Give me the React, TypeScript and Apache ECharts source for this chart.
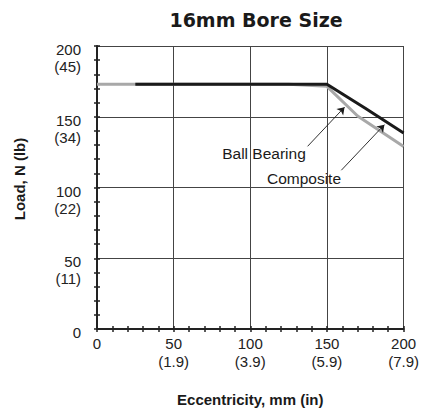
import React, { useEffect, useRef } from "react";
import * as echarts from "echarts";

const xTicks = [0, 50, 100, 150, 200];
const xInches = ["", "(1.9)", "(3.9)", "(5.9)", "(7.9)"];
const yTicks = [0, 50, 100, 150, 200];
const yPounds = ["", "(11)", "(22)", "(34)", "(45)"];

const ballX = [25, 150, 175, 200];
const ballY = [173, 173, 156, 138.5];
const compX = [0, 125, 150, 170, 200];
const compY = [173, 173, 171.5, 150.5, 129];

const ballArrow = [[137.4, 129.1], [161.5, 156.8]];
const compArrow = [[159.4, 112.2], [187.5, 144.4]];

const FONT = "'Liberation Sans', Arial, sans-serif";

export default function App() {
  const ref = useRef<HTMLDivElement>(null);
  useEffect(() => {
    document.body.style.margin = "0";
    const chart = echarts.init(ref.current!, null, { renderer: "svg" });
    const xLabel = (v: number) => {
      const i = xTicks.indexOf(v);
      return i > 0 ? `${v}\n${xInches[i]}` : `${v}`;
    };
    const yLabel = (v: number) => {
      const i = yTicks.indexOf(v);
      return i > 0 ? `{a|${v}}\n{b|${yPounds[i]}}` : `{a|${v}}`;
    };
    const baseX = {
      type: "value",
      min: 0,
      max: 200,
      interval: 50,
      position: "bottom",
    };
    const baseY = {
      type: "value",
      min: 0,
      max: 200,
      interval: 50,
      position: "left",
    };
    const labelText = { fontFamily: FONT, fontSize: 15, color: "#222" };
    chart.setOption({
      animation: false,
      backgroundColor: "#ffffff",
      title: {
        text: "16mm Bore Size",
        left: 251,
        top: 5,
        textAlign: "center",
        textStyle: {
          fontFamily: "'DejaVu Sans', sans-serif",
          fontWeight: "bold",
          fontSize: 19,
          color: "#1a1a1a",
        },
      },
      grid: { left: 97, right: 15, top: 46, bottom: 83, containLabel: false },
      xAxis: [
        {
          ...baseX,
          name: "Eccentricity, mm (in)",
          nameLocation: "middle",
          nameGap: 63,
          nameTextStyle: { fontFamily: FONT, fontWeight: "bold", fontSize: 15, color: "#1a1a1a" },
          axisLine: { show: true, lineStyle: { color: "#222", width: 2 } },
          axisTick: { show: true, length: 3, lineStyle: { color: "#222", width: 1.5 } },
          minorTick: { show: true, splitNumber: 5, length: 3, lineStyle: { color: "#222", width: 1.5 } },
          splitLine: { show: true, lineStyle: { color: "#444", width: 1 } },
          axisLabel: {
            formatter: xLabel,
            ...labelText,
            lineHeight: 18,
            margin: 5,
            verticalAlign: "top",
          },
        },
        {
          ...baseX,
          axisLine: { show: false },
          axisTick: { show: true, inside: true, length: 3, lineStyle: { color: "#222", width: 1.5 } },
          minorTick: { show: true, splitNumber: 5, length: 3, lineStyle: { color: "#222", width: 1.5 } },
          splitLine: { show: false },
          axisLabel: { show: false },
        },
      ],
      yAxis: [
        {
          ...baseY,
          axisLine: { show: true, lineStyle: { color: "#222", width: 2 } },
          axisTick: { show: true, length: 3, lineStyle: { color: "#222", width: 1.5 } },
          minorTick: { show: true, splitNumber: 5, length: 3, lineStyle: { color: "#222", width: 1.5 } },
          splitLine: { show: true, lineStyle: { color: "#444", width: 1 } },
          axisLabel: {
            formatter: yLabel,
            ...labelText,
            margin: 16,
            align: "right",
            verticalAlign: "top",
            rich: {
              a: { ...labelText, lineHeight: 7, align: "right" },
              b: { ...labelText, lineHeight: 27, align: "right" },
            },
          },
        },
        {
          ...baseY,
          axisLine: { show: false },
          axisTick: { show: true, inside: true, length: 3, lineStyle: { color: "#222", width: 1.5 } },
          minorTick: { show: true, splitNumber: 5, length: 3, lineStyle: { color: "#222", width: 1.5 } },
          splitLine: { show: false },
          axisLabel: { show: false },
        },
      ],
      graphic: [
        {
          type: "text",
          x: 19.5,
          y: 179,
          rotation: Math.PI / 2,
          style: {
            text: "Load, N (lb)",
            fontFamily: FONT,
            fontWeight: "bold",
            fontSize: 15,
            fill: "#1a1a1a",
            align: "center",
            verticalAlign: "middle",
          },
        },
        {
          type: "text",
          x: 264,
          y: 153,
          style: {
            text: "Ball Bearing",
            fontFamily: FONT,
            fontSize: 15.5,
            fill: "#1a1a1a",
            align: "center",
            verticalAlign: "middle",
          },
        },
        {
          type: "text",
          x: 304,
          y: 178,
          style: {
            text: "Composite",
            fontFamily: FONT,
            fontSize: 15.5,
            fill: "#1a1a1a",
            align: "center",
            verticalAlign: "middle",
          },
        },
      ],
      series: [
        {
          name: "Composite",
          type: "line",
          xAxisIndex: 0,
          yAxisIndex: 0,
          showSymbol: false,
          symbol: "none",
          data: compX.map((x, i) => [x, compY[i]]),
          lineStyle: { color: "#a8a8a8", width: 3 },
          z: 3,
        },
        {
          name: "Ball Bearing",
          type: "line",
          xAxisIndex: 0,
          yAxisIndex: 0,
          showSymbol: false,
          symbol: "none",
          data: ballX.map((x, i) => [x, ballY[i]]),
          lineStyle: { color: "#1a1a1a", width: 3 },
          z: 4,
          markLine: {
            silent: true,
            symbol: ["none", "arrow"],
            symbolSize: 7,
            label: { show: false },
            lineStyle: { color: "#1a1a1a", width: 0.9, type: "solid" },
            data: [
              [{ coord: ballArrow[0] }, { coord: ballArrow[1] }],
              [{ coord: compArrow[0] }, { coord: compArrow[1] }],
            ],
          },
        },
      ],
    });
    return () => chart.dispose();
  }, []);
  return (
    <div
      ref={ref}
      style={{ position: "fixed", left: 0, top: 0, width: 422, height: 412 }}
    />
  );
}
